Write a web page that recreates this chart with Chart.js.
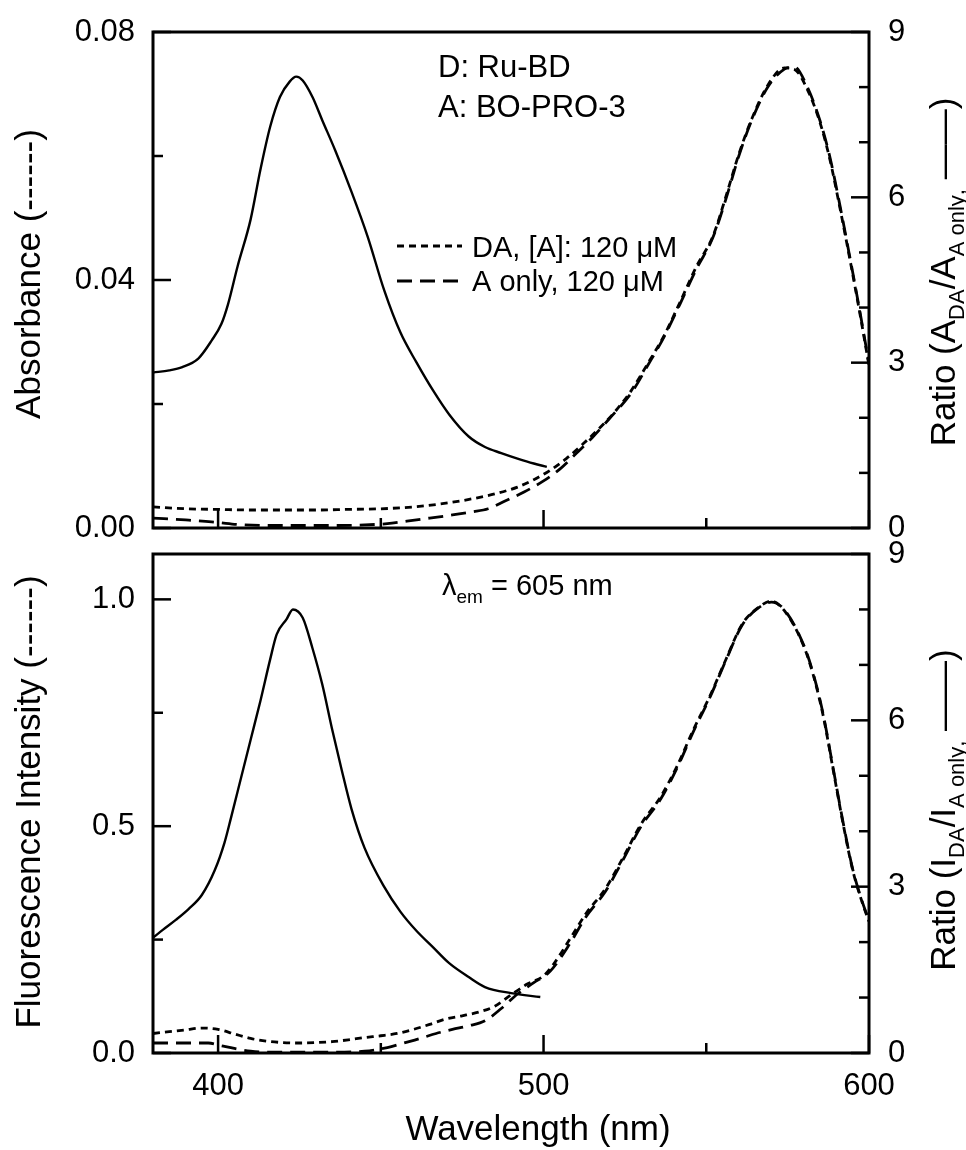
<!DOCTYPE html>
<html>
<head>
<meta charset="utf-8">
<script src="https://cdn.jsdelivr.net/npm/chart.js@4.4.0/dist/chart.umd.min.js"></script>
<style>
  html, body { margin: 0; padding: 0; background: #fff; }
  body { width: 966px; height: 1150px; position: relative; overflow: hidden; }
  canvas { position: absolute; left: 0; }
  #absChart { top: 0; }
  #fluChart { top: 535px; }
</style>
</head>
<body>
<canvas id="absChart" width="966" height="545"></canvas>
<canvas id="fluChart" width="966" height="615"></canvas>
<script>
// ===== DATA =====
// Top panel: absorbance ratio (solid, right axis)
const absRatioNm = [380, 385, 389, 394, 398, 401, 403, 406, 410, 413, 416, 419, 422, 424, 426, 429, 432, 436, 441, 446, 451, 456, 461, 466, 471, 477, 482, 487, 492, 497, 501];
const absRatio   = [2.82, 2.86, 2.92, 3.08, 3.40, 3.70, 4.05, 4.75, 5.60, 6.50, 7.28, 7.82, 8.10, 8.19, 8.12, 7.82, 7.40, 6.85, 6.10, 5.28, 4.32, 3.55, 3.00, 2.50, 2.06, 1.66, 1.47, 1.36, 1.26, 1.17, 1.11];

// Top panel: absorbance DA (short dash, left axis)
const absDaNm = [380, 390, 400, 410, 420, 430, 440, 450, 460, 470, 478, 485, 492, 497, 502, 507, 512, 517, 522, 527, 532, 537, 542, 547, 552, 556, 560, 564, 569, 574, 577, 581, 585, 588, 591, 594, 597, 600];
const absDa   = [0.0034, 0.0031, 0.0030, 0.0029, 0.0029, 0.0029, 0.0030, 0.0031, 0.0034, 0.0040, 0.0047, 0.0055, 0.0066, 0.0078, 0.0093, 0.0112, 0.0135, 0.0160, 0.0188, 0.0222, 0.0265, 0.0310, 0.0365, 0.0422, 0.0470, 0.0534, 0.0603, 0.0660, 0.0715, 0.0742, 0.0740, 0.0708, 0.0653, 0.0594, 0.0518, 0.0437, 0.0352, 0.0262];

// Top panel: absorbance A only (long dash, left axis)
const absAoNm = [380, 390, 398, 405, 415, 425, 435, 445, 452, 458, 465, 472, 478, 483, 488, 494, 500, 505, 510, 515, 520, 527, 532, 537, 542, 547, 552, 556, 560, 564, 569, 574, 577, 581, 585, 588, 591, 594, 597, 600];
const absAo   = [0.0016, 0.0013, 0.0010, 0.0006, 0.0004, 0.0004, 0.0004, 0.0005, 0.0007, 0.0011, 0.0016, 0.0021, 0.0026, 0.0031, 0.0043, 0.0058, 0.0076, 0.0095, 0.0120, 0.0146, 0.0175, 0.0218, 0.0262, 0.0308, 0.0362, 0.0418, 0.0468, 0.0530, 0.0600, 0.0658, 0.0712, 0.0740, 0.0744, 0.0712, 0.0656, 0.0598, 0.0522, 0.0440, 0.0355, 0.0265];

// Bottom panel: fluorescence ratio (solid, right axis)
const fluRatioNm = [380, 383, 387, 391, 395, 399, 402, 404, 407, 410, 413, 416, 418, 421, 423, 426, 429, 432, 435, 438, 441, 445, 451, 456, 461, 466, 471, 477, 482, 490, 499];
const fluRatio   = [2.08, 2.22, 2.40, 2.60, 2.85, 3.30, 3.80, 4.25, 4.95, 5.65, 6.35, 7.10, 7.55, 7.82, 8.00, 7.85, 7.30, 6.65, 5.85, 5.10, 4.40, 3.70, 3.00, 2.55, 2.20, 1.91, 1.62, 1.37, 1.19, 1.08, 1.01];

// Bottom panel: fluorescence DA (short dash, left axis)
const fluDaNm = [380, 385, 390, 395, 400, 405, 410, 415, 420, 425, 430, 435, 440, 445, 450, 455, 460, 465, 470, 475, 480, 485, 490, 495, 500, 503, 508, 513, 519, 524, 530, 536, 541, 546, 551, 556, 561, 566, 570, 574, 580, 583, 586, 589, 592, 595, 598, 600];
const fluDa   = [0.043, 0.047, 0.051, 0.055, 0.052, 0.042, 0.032, 0.026, 0.023, 0.022, 0.023, 0.025, 0.029, 0.034, 0.038, 0.043, 0.052, 0.063, 0.075, 0.082, 0.090, 0.103, 0.128, 0.152, 0.170, 0.195, 0.250, 0.307, 0.362, 0.425, 0.505, 0.565, 0.632, 0.712, 0.785, 0.867, 0.945, 0.982, 0.996, 0.975, 0.896, 0.830, 0.741, 0.624, 0.507, 0.403, 0.330, 0.290];

// Bottom panel: fluorescence A only (long dash, left axis)
const fluAoNm = [380, 390, 397, 401, 405, 410, 415, 425, 435, 445, 452, 457, 462, 467, 472, 477, 482, 487, 492, 497, 502, 508, 513, 519, 524, 530, 536, 541, 546, 551, 556, 561, 566, 570, 574, 580, 583, 586, 589, 592, 595, 598, 600];
const fluAo   = [0.022, 0.022, 0.022, 0.016, 0.010, 0.004, 0.002, 0.002, 0.002, 0.004, 0.012, 0.022, 0.032, 0.043, 0.052, 0.060, 0.071, 0.098, 0.130, 0.155, 0.180, 0.240, 0.300, 0.356, 0.420, 0.500, 0.560, 0.628, 0.708, 0.782, 0.865, 0.943, 0.981, 0.994, 0.977, 0.898, 0.833, 0.744, 0.627, 0.510, 0.405, 0.332, 0.292];

// Tick values
const xMajor = [400, 500, 600];
const xMinor = [450, 550];
const absMajor = [0, 0.04, 0.08];
const absMinor = [0.02, 0.06];
const fluMajor = [0, 0.5, 1.0];
const fluMinor = [0.25, 0.75];
const ratioMajor = [0, 3, 6, 9];
const ratioMinor = [1, 2, 4, 5, 7, 8];

// ===== STYLE =====
const FONT = '"Liberation Sans", Arial, Helvetica, sans-serif';
const SHORT_DASH = [7, 5];
const LONG_DASH = [15, 8];
const MAJOR_LEN = 18;
const MINOR_LEN = 10;

const font = (size) => `${size}px ${FONT}`;
const pts = (xs, ys) => xs.map((x, i) => ({ x: x, y: ys[i] }));

// Draw a sequence of text runs (normal + subscripts), optionally rotated and centered
function drawRuns(ctx, runs, x, y, angle, align) {
    ctx.save();
    ctx.translate(x, y);
    ctx.rotate(angle);
    ctx.fillStyle = '#000';
    ctx.textBaseline = 'alphabetic';
    ctx.textAlign = 'left';
    let total = 0;
    runs.forEach(r => {
        ctx.font = font(r.size);
        r.w = ctx.measureText(r.t).width;
        total += r.w;
    });
    let cx = align === 'center' ? -total / 2 : 0;
    runs.forEach(r => {
        ctx.font = font(r.size);
        ctx.fillText(r.t, cx, r.dy || 0);
        cx += r.w;
    });
    ctx.restore();
}

// Frame with inward ticks on bottom, left and right
function drawFrame(chart, leftMajor, leftMinor) {
    const { ctx, chartArea: a, scales } = chart;
    ctx.save();
    ctx.strokeStyle = '#000';
    ctx.setLineDash([]);
    ctx.lineWidth = 3;
    ctx.strokeRect(a.left, a.top, a.right - a.left, a.bottom - a.top);
    ctx.lineWidth = 2.5;
    const seg = (x1, y1, x2, y2) => {
        ctx.beginPath();
        ctx.moveTo(x1, y1);
        ctx.lineTo(x2, y2);
        ctx.stroke();
    };
    xMajor.forEach(v => { const p = scales.x.getPixelForValue(v); seg(p, a.bottom, p, a.bottom - MAJOR_LEN); });
    xMinor.forEach(v => { const p = scales.x.getPixelForValue(v); seg(p, a.bottom, p, a.bottom - MINOR_LEN); });
    leftMajor.forEach(v => { const p = scales.yL.getPixelForValue(v); seg(a.left, p, a.left + MAJOR_LEN, p); });
    leftMinor.forEach(v => { const p = scales.yL.getPixelForValue(v); seg(a.left, p, a.left + MINOR_LEN, p); });
    ratioMajor.forEach(v => { const p = scales.yR.getPixelForValue(v); seg(a.right, p, a.right - MAJOR_LEN, p); });
    ratioMinor.forEach(v => { const p = scales.yR.getPixelForValue(v); seg(a.right, p, a.right - MINOR_LEN, p); });
    ctx.restore();
}

function yAxis(position, min, max, major, width, pad, fmt) {
    return {
        type: 'linear',
        position: position,
        min: min,
        max: max,
        grid: { display: false, drawTicks: false },
        border: { display: false },
        ticks: {
            color: '#000',
            padding: pad,
            font: { family: FONT, size: 31, lineHeight: 1 },
            callback: fmt
        },
        afterBuildTicks: (s) => { s.ticks = major.map(v => ({ value: v })); },
        afterFit: (s) => { s.width = width; s.paddingTop = 0; s.paddingBottom = 0; }
    };
}

function lineSet(label, data, axis, dash, width) {
    return {
        label: label,
        data: data,
        yAxisID: axis,
        borderColor: '#000',
        borderWidth: width,
        borderDash: dash,
        pointRadius: 0,
        fill: false,
        cubicInterpolationMode: 'monotone'
    };
}

const commonOptions = {
    responsive: false,
    animation: false,
    devicePixelRatio: 1,
    plugins: { legend: { display: false }, tooltip: { enabled: false } }
};

// ===== TOP PANEL: ABSORBANCE =====
const absDecor = {
    id: 'absDecor',
    afterDraw(chart) {
        const ctx = chart.ctx;
        drawFrame(chart, absMajor, absMinor);
        drawRuns(ctx, [{ t: 'D: Ru-BD', size: 31 }], 438, 77, 0);
        drawRuns(ctx, [{ t: 'A: BO-PRO-3', size: 31 }], 438, 117, 0);
        // legend
        ctx.save();
        ctx.strokeStyle = '#000';
        ctx.lineWidth = 2.8;
        ctx.setLineDash(SHORT_DASH);
        ctx.beginPath(); ctx.moveTo(397, 246); ctx.lineTo(462, 246); ctx.stroke();
        ctx.setLineDash(LONG_DASH);
        ctx.beginPath(); ctx.moveTo(397, 281); ctx.lineTo(462, 281); ctx.stroke();
        ctx.restore();
        drawRuns(ctx, [{ t: 'DA, [A]: 120 \u03bcM', size: 29 }], 472, 257, 0);
        drawRuns(ctx, [{ t: 'A only, 120 \u03bcM', size: 29 }], 472, 291, 0);
        // axis titles
        drawRuns(ctx, [{ t: 'Absorbance (------)', size: 35 }], 40, 274, -Math.PI / 2, 'center');
        drawRuns(ctx, [
            { t: 'Ratio (A', size: 35 },
            { t: 'DA', size: 22, dy: 9 },
            { t: '/A', size: 35 },
            { t: 'A only', size: 22, dy: 9 },
            { t: ',', size: 22, dy: 9 },
            { t: ' \u2014\u2014)', size: 35 }
        ], 955, 272, -Math.PI / 2, 'center');
    }
};

new Chart(document.getElementById('absChart'), {
    type: 'line',
    data: {
        datasets: [
            lineSet('Ratio', pts(absRatioNm, absRatio), 'yR', [], 2.4),
            lineSet('DA, [A]: 120 \u03bcM', pts(absDaNm, absDa), 'yL', SHORT_DASH, 2.8),
            lineSet('A only, 120 \u03bcM', pts(absAoNm, absAo), 'yL', LONG_DASH, 2.8)
        ]
    },
    options: {
        ...commonOptions,
        layout: { padding: { top: 32, bottom: 17, left: 0, right: 0 } },
        scales: {
            x: { type: 'linear', min: 380, max: 600, display: false },
            yL: yAxis('left', 0, 0.08, absMajor, 153, 18, v => v.toFixed(2)),
            yR: yAxis('right', 0, 9, ratioMajor, 97, 19, v => String(v))
        }
    },
    plugins: [absDecor]
});

// ===== BOTTOM PANEL: FLUORESCENCE =====
const fluDecor = {
    id: 'fluDecor',
    afterDraw(chart) {
        const ctx = chart.ctx;
        drawFrame(chart, fluMajor, fluMinor);
        drawRuns(ctx, [
            { t: '\u03bb', size: 29 },
            { t: 'em', size: 19, dy: 8 },
            { t: ' = 605 nm', size: 29 }
        ], 442, 60, 0);
        drawRuns(ctx, [{ t: 'Wavelength (nm)', size: 35 }], 538, 605, 0, 'center');
        drawRuns(ctx, [{ t: 'Fluorescence Intensity (------)', size: 35 }], 40, 267, -Math.PI / 2, 'center');
        drawRuns(ctx, [
            { t: 'Ratio (I', size: 35 },
            { t: 'DA', size: 22, dy: 9 },
            { t: '/I', size: 35 },
            { t: 'A only', size: 22, dy: 9 },
            { t: ',', size: 22, dy: 9 },
            { t: ' \u2014\u2014)', size: 35 }
        ], 955, 275, -Math.PI / 2, 'center');
    }
};

new Chart(document.getElementById('fluChart'), {
    type: 'line',
    data: {
        datasets: [
            lineSet('Ratio', pts(fluRatioNm, fluRatio), 'yR', [], 2.4),
            lineSet('DA, [A]: 120 \u03bcM', pts(fluDaNm, fluDa), 'yL', SHORT_DASH, 2.8),
            lineSet('A only, 120 \u03bcM', pts(fluAoNm, fluAo), 'yL', LONG_DASH, 2.8)
        ]
    },
    options: {
        ...commonOptions,
        layout: { padding: { top: 19, bottom: 0, left: 0, right: 0 } },
        scales: {
            x: {
                type: 'linear',
                position: 'bottom',
                min: 380,
                max: 600,
                grid: { display: false, drawTicks: false },
                border: { display: false },
                ticks: {
                    color: '#000',
                    padding: 18,
                    maxRotation: 0,
                    autoSkip: false,
                    font: { family: FONT, size: 31, lineHeight: 1 },
                    callback: v => String(v)
                },
                afterBuildTicks: (s) => { s.ticks = xMajor.map(v => ({ value: v })); },
                afterFit: (s) => { s.height = 97; s.paddingLeft = 0; s.paddingRight = 0; }
            },
            yL: yAxis('left', 0, 1.1, fluMajor, 153, 18, v => v.toFixed(1)),
            yR: yAxis('right', 0, 9, ratioMajor, 97, 19, v => String(v))
        }
    },
    plugins: [fluDecor]
});
</script>
</body>
</html>
